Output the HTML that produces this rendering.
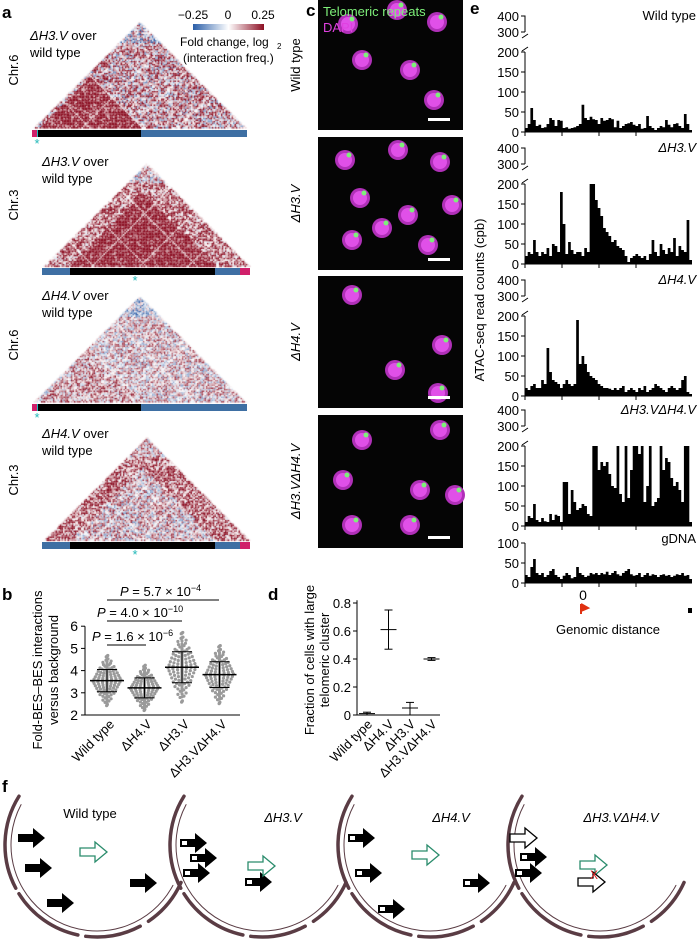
<!DOCTYPE html>
<html><head><meta charset="utf-8"><style>
body{margin:0;background:#fff;font-family:"Liberation Sans",sans-serif}
#root{position:relative;width:700px;height:942px;overflow:hidden}
svg{position:absolute;left:0;top:0}
canvas{position:absolute;left:0;top:0}
</style></head><body><div id="root">
<canvas id="hm" width="700" height="942"></canvas>
<svg id="sv" width="700" height="942" font-family="Liberation Sans, sans-serif"></svg>
</div>
<script>
// ===== data =====
const bGroups=["Wild type","ΔH4.V","ΔH3.V","ΔH3.VΔH4.V"];
const bMeans=[3.55,3.22,4.15,3.82];
const bSD=[0.5,0.45,0.7,0.58];
const dGroups=["Wild type","ΔH4.V","ΔH3.V","ΔH3.VΔH4.V"];
const dMeans=[0.01,0.61,0.05,0.40];
const dLow=[0.0,0.47,0.0,0.39];
const dHigh=[0.02,0.75,0.09,0.41];
const eTitles=["Wild type","ΔH3.V","ΔH4.V","ΔH3.VΔH4.V","gDNA"];
const eWT=[10,20,60,30,15,18,10,12,20,35,30,15,30,28,10,12,8,10,12,15,20,68,35,30,38,32,30,20,35,28,30,35,32,12,28,10,15,20,22,25,18,15,20,8,10,40,15,10,5,10,15,12,30,18,12,20,22,15,10,45,20,5];
const eH3=[20,30,25,60,30,20,30,25,40,20,50,45,30,180,100,25,55,35,25,30,30,20,40,30,200,200,160,140,120,90,80,70,55,60,45,40,35,20,5,15,20,25,20,15,20,10,25,60,30,20,50,35,25,40,30,65,20,45,35,30,110,10];
const eH4=[20,15,25,30,20,20,40,30,120,60,40,35,30,20,30,40,30,25,30,190,80,100,80,60,50,45,40,30,25,20,20,18,15,20,15,20,25,10,15,20,15,10,20,15,25,10,15,20,30,25,20,15,10,20,25,20,15,20,40,50,10,5];
const eDbl=[10,25,20,55,15,10,20,12,10,30,15,28,25,10,110,110,30,90,60,40,45,55,50,30,25,200,200,140,160,150,160,130,100,95,200,80,60,200,70,140,200,200,180,200,60,100,200,50,60,70,200,140,170,160,120,100,110,90,60,200,200,10];
const eG=[20,15,40,60,25,20,25,15,20,30,35,20,15,10,18,25,20,12,15,40,25,20,15,18,25,22,25,20,25,22,28,20,25,30,22,18,25,30,35,22,18,20,25,15,20,25,18,22,20,15,20,22,18,20,15,18,22,20,25,18,20,10];
const eTicks=[0,50,100,150,200];

const NS="http://www.w3.org/2000/svg";const sv=document.getElementById('sv');
function el(t,a,p){const e=document.createElementNS(NS,t);for(const k in a)e.setAttribute(k,a[k]);(p||sv).appendChild(e);return e;}
function tx(x,y,s,o){o=o||{};const e=el('text',Object.assign({x:x,y:y,'font-size':o.fs||13,fill:o.fill||'#000','text-anchor':o.a||'start'},o.tr?{transform:o.tr}:{} ,o.it?{'font-style':'italic'}:{} ,o.b?{'font-weight':'bold'}:{}));e.textContent=s;return e;}

// ===== panel a heatmaps (canvas) =====
const ctx=document.getElementById('hm').getContext('2d');
function hash(a,b){let h=(a*374761393+b*668265263)|0;h=(h^(h>>>13))*1274126177|0;return ((h^(h>>>16))>>>0)/4294967295;}
function col(v){v=Math.max(-0.25,Math.min(0.25,v))/0.25;
 if(v>=0){const r=255+(140-255)*v,g=255+(15-255)*v,b=255+(35-255)*v;return `rgb(${r|0},${g|0},${b|0})`;}
 v=-v;return `rgb(${(255-(255-40)*v)|0},${(255-(255-90)*v)|0},${(255-(255-165)*v)|0})`;}
const tris=[
 {x0:32,x1:247,yb:128,b0:38,b1:141,inM:0.3,outM:0.08,nz:0.25,seed:1},
 {x0:42,x1:250,yb:266,b0:70,b1:215,inM:0.28,outM:0.14,nz:0.2,seed:2},
 {x0:32,x1:247,yb:402,b0:38,b1:141,inM:0.08,outM:0.04,nz:0.18,seed:3},
 {x0:42,x1:250,yb:540,b0:70,b1:215,inM:0.04,outM:0.15,nz:0.2,seed:4}];
tris.forEach(t=>{const w=t.x1-t.x0,h=w/2;
 for(let y=t.yb-h;y<t.yb;y+=1.5)for(let x=t.x0;x<t.x1;x+=1.5){const d=t.yb-y;const u=x-d,v=x+d;
  if(u<t.x0||v>t.x1)continue;const inside=(u>=t.b0&&v<=t.b1);
  let m=inside?t.inM:t.outM; if(d>h*0.8)m-=0.1;
  let val=m+(hash(Math.round(x*2)*7+t.seed,Math.round(y*2)*13)-0.5)*2*t.nz;
  if(Math.abs((u-t.x0)%48)<1.5||Math.abs((t.x1-v)%52)<1.5)val*=0.2;
  ctx.fillStyle=col(val);ctx.fillRect(x,y,1.6,1.6);}
});
function abar(y,segs){segs.forEach(s=>{const r=el('rect',{x:s[0],y:y,width:s[1]-s[0],height:7,fill:s[2]});});}
abar(130,[[32,37,'#d0206a'],[37,38,'#20c0c0'],[38,141,'#000'],[141,247,'#3e6fa3']]);
abar(268,[[42,70,'#3e6fa3'],[70,215,'#000'],[215,240,'#3e6fa3'],[240,250,'#d0206a']]);
abar(404,[[32,37,'#d0206a'],[37,38,'#20c0c0'],[38,141,'#000'],[141,247,'#3e6fa3']]);
abar(542,[[42,70,'#3e6fa3'],[70,215,'#000'],[215,240,'#3e6fa3'],[240,250,'#d0206a']]);
[[37,148],[135,285],[37,422],[135,559]].forEach(p=>tx(p[0],p[1],'*',{fs:13,fill:'#20b8b8',a:'middle'}));
tx(2,18,'a',{fs:17,b:1});
const aLab=[['ΔH3.V',' over',30,40,'Chr.6',70],['ΔH3.V',' over',42,166,'Chr.3',205],['ΔH4.V',' over',42,300,'Chr.6',345],['ΔH4.V',' over',42,438,'Chr.3',480]];
aLab.forEach(l=>{const t=tx(l[2],l[3],'',{fs:13});const s1=el('tspan',{'font-style':'italic'},t);s1.textContent=l[0];const s2=el('tspan',{},t);s2.textContent=l[1];
 tx(l[2],l[3]+17,'wild type',{fs:13});tx(0,0,l[4],{fs:13,a:'middle',tr:`translate(18,${l[5]}) rotate(-90)`});});
const gd=el('linearGradient',{id:'cb'},el('defs',{}));
[['0','#2a5ea8'],['0.5','#fff'],['1','#8c0f23']].forEach(s=>el('stop',{offset:s[0],'stop-color':s[1]},gd));
el('rect',{x:193,y:24,width:71,height:6,fill:'url(#cb)',});
tx(193,19,'−0.25',{fs:12,a:'middle'});tx(228,19,'0',{fs:12,a:'middle'});tx(263,19,'0.25',{fs:12,a:'middle'});
tx(180,46,'Fold change, log',{fs:12});tx(277,49,'2',{fs:8});tx(183,62,'(interaction freq.)',{fs:12});

// ===== panel c microscopy =====
tx(306,16,'c',{fs:17,b:1});
const cBoxes=[[318,0,145,130],[318,137,145,133],[318,276,145,132],[318,415,145,133]];
const cLabels=['Wild type','ΔH3.V','ΔH4.V','ΔH3.VΔH4.V'];
const nuclei=[[[348,24],[397,10],[437,22],[362,60],[410,70],[434,100]],[[345,160],[398,150],[440,162],[360,198],[408,215],[452,205],[352,240],[428,245],[382,228]],[[352,295],[395,370],[442,345],[438,393]],[[362,440],[440,430],[343,480],[420,490],[455,495],[352,525],[410,525]]];
cBoxes.forEach((b,i)=>{const r=el('rect',{x:b[0],y:b[1],width:b[2],height:b[3],fill:'#050505'});
 nuclei[i].forEach((n,k)=>{el('circle',{cx:n[0],cy:n[1],r:10,fill:'#b030b8'});el('circle',{cx:n[0],cy:n[1],r:7,fill:'#e050e8'});el('circle',{cx:n[0]+4,cy:n[1]-5,r:2.5,fill:'#7ef07a'});});
 el('rect',{x:b[0]+b[2]-35,y:b[1]+b[3]-12,width:22,height:3,fill:'#fff'});
 tx(0,0,cLabels[i],{fs:13,it:i>0,a:'middle',tr:`translate(${b[0]-18},${b[1]+b[3]/2}) rotate(-90)`});});
tx(323,16,'Telomeric repeats',{fs:13,fill:'#7ef07a'});tx(323,32,'DAPI',{fs:13,fill:'#e040e0'});

// ===== panel b =====
tx(2,600,'b',{fs:17,b:1});
const bx0=85,bx1=240,by=v=>715-(v-2)*22.2,bxc=i=>107+i*37.5;
el('line',{x1:bx0,y1:by(6),x2:bx0,y2:by(2),stroke:'#000'});el('line',{x1:bx0,y1:by(2),x2:bx1,y2:by(2),stroke:'#000'});
[2,3,4,5,6].forEach(v=>{el('line',{x1:bx0-4,y1:by(v),x2:bx0,y2:by(v),stroke:'#000'});tx(bx0-7,by(v)+5,String(v),{fs:14,a:'end'});});
const qz=[-2.2,-1.9,-1.7,-1.5,-1.35,-1.2,-1.1,-1,-0.9,-0.8,-0.72,-0.64,-0.56,-0.48,-0.4,-0.33,-0.26,-0.19,-0.12,-0.06,0,0.06,0.12,0.19,0.26,0.33,0.4,0.48,0.56,0.64,0.72,0.8,0.9,1,1.1,1.2,1.35,1.5,1.7,1.9,2.2];
bGroups.forEach((g,i)=>{const cx=bxc(i);
 qz.forEach((z,k)=>{[-1,0,1].forEach(s=>{const spread=(1-Math.abs(z)/2.4)*14;el('circle',{cx:cx+s*spread*((k%3+1)/3),cy:by(bMeans[i]+z*bSD[i]+s*0.03),r:1.6,fill:'#9a9a9a'});});});
 el('line',{x1:cx-17,y1:by(bMeans[i]),x2:cx+17,y2:by(bMeans[i]),stroke:'#000','stroke-width':1.5});
 el('line',{x1:cx,y1:by(bMeans[i]-bSD[i]),x2:cx,y2:by(bMeans[i]+bSD[i]),stroke:'#000'});
 [-1,1].forEach(s=>el('line',{x1:cx-10,y1:by(bMeans[i]+s*bSD[i]),x2:cx+10,y2:by(bMeans[i]+s*bSD[i]),stroke:'#000'}));
 tx(0,0,g,{fs:13,a:'end',tr:`translate(${cx+8},${by(2)+10}) rotate(-45)`});});
[[107,146,645,'P = 1.6 × 10','−6',92],[107,182,621,'P = 4.0 × 10','−10',97],[107,219,600,'P = 5.7 × 10','−4',120]].forEach(p=>{
 el('line',{x1:p[0],y1:p[2],x2:p[1],y2:p[2],stroke:'#000'});const t=tx(p[5],p[2]-4,'',{fs:13});
 const a=el('tspan',{'font-style':'italic'},t);a.textContent='P';const b=el('tspan',{},t);b.textContent=p[3].slice(1);const c=el('tspan',{dy:-5,'font-size':9},t);c.textContent=p[4];});
tx(0,0,'Fold-BES–BES interactions',{fs:13,a:'middle',tr:'translate(42,670) rotate(-90)'});
tx(0,0,'versus background',{fs:13,a:'middle',tr:'translate(58,670) rotate(-90)'});

// ===== panel d =====
tx(268,600,'d',{fs:17,b:1});
const dx0=357,dy=v=>715-v*140,dxc=i=>367+i*21.5;
el('line',{x1:dx0,y1:dy(0.82),x2:dx0,y2:dy(0),stroke:'#000'});el('line',{x1:dx0,y1:dy(0),x2:440,y2:dy(0),stroke:'#000'});
[0,0.2,0.4,0.6,0.8].forEach(v=>{el('line',{x1:dx0-4,y1:dy(v),x2:dx0,y2:dy(v),stroke:'#000'});tx(dx0-6,dy(v)+5,v===0?'0':String(v),{fs:13,a:'end'});});
dGroups.forEach((g,i)=>{const cx=dxc(i);
 el('line',{x1:cx-8,y1:dy(dMeans[i]),x2:cx+8,y2:dy(dMeans[i]),stroke:'#000'});
 el('line',{x1:cx,y1:dy(dLow[i]),x2:cx,y2:dy(dHigh[i]),stroke:'#000'});
 [dLow[i],dHigh[i]].forEach(v=>el('line',{x1:cx-4,y1:dy(v),x2:cx+4,y2:dy(v),stroke:'#000'}));
 tx(0,0,g,{fs:13,a:'end',tr:`translate(${cx+6},${dy(0)+10}) rotate(-45)`});});
tx(0,0,'Fraction of cells with large',{fs:13,a:'middle',tr:'translate(314,660) rotate(-90)'});
tx(0,0,'telomeric cluster',{fs:13,a:'middle',tr:'translate(329,660) rotate(-90)'});

// ===== panel e =====
tx(470,14,'e',{fs:17,b:1});
const eSeries=[eWT,eH3,eH4,eDbl,eG];
const eZero=[132,264,396,526,583];
const ex0=525,ex1=692;
eSeries.forEach((s,p)=>{const z=eZero[p];const sy=v=>z-Math.min(v,200)*0.4;const bw=(ex1-ex0)/s.length;
 let d=`M${ex0},${z}`;s.forEach((v,i)=>{d+=`L${ex0+i*bw},${sy(v)}L${ex0+(i+1)*bw},${sy(v)}`;});d+=`L${ex1},${z}Z`;
 const pa=el('path',{d:d,fill:'#000'});
 const top=p<4?200:100;
 el('line',{x1:ex0,y1:z,x2:ex1,y2:z,stroke:'#000'});el('line',{x1:ex0,y1:z,x2:ex0,y2:sy(top),stroke:'#000'});
 eTicks.filter(v=>v<=top).forEach(v=>{el('line',{x1:ex0-4,y1:sy(v),x2:ex0,y2:sy(v),stroke:'#000'});tx(ex0-6,sy(v)+5,String(v),{fs:13,a:'end'});});
 [0,1,2,3].forEach(k=>el('line',{x1:ex0+k*37,y1:z,x2:ex0+k*37,y2:z+4,stroke:'#000'}));
 if(p<4){const y3=sy(200)-20,y4=sy(200)-36;el('path',{d:`M${ex0-4},${y4}L${ex0},${y4}L${ex0},${y3}M${ex0-4},${y3}L${ex0},${y3}`,stroke:'#000',fill:'none'});
  tx(ex0-6,y4+5,'400',{fs:13,a:'end'});tx(ex0-6,y3+5,'300',{fs:13,a:'end'});
  el('path',{d:`M${ex0-3},${y3+6}L${ex0+3},${y3+2}M${ex0-3},${sy(200)-1}L${ex0+3},${sy(200)-5}`,stroke:'#000',fill:'none'});}
 tx(696,z-(p<4?112:40),eTitles[p],{fs:13,a:'end',it:p>0&&p<4});});
tx(583,600,'0',{fs:14,a:'middle'});
el('path',{d:'M581,604L581,614M581,604L588,608L581,611',stroke:'#e03010','stroke-width':2,fill:'#e03010'});el('rect',{x:688,y:608,width:4,height:5,fill:'#000'});
tx(608,634,'Genomic distance',{fs:13,a:'middle'});
tx(0,0,'ATAC-seq read counts (cpb)',{fs:13,a:'middle',tr:'translate(484,300) rotate(-90)'});

// ===== panel f =====
tx(2,792,'f',{fs:17,b:1});
const fOff=[0,165,333,503];
const fTitle=['Wild type','ΔH3.V','ΔH4.V','ΔH3.VΔH4.V'];
const fArrows=[[[[18,838,0],[25,868,0],[47,903,0],[130,883,0]],[[80,852,'g']]],
 [[[180,843,1],[190,858,1],[183,873,1],[245,882,1]],[[248,866,'g']]],
 [[[348,838,1],[355,873,1],[378,909,1],[463,883,1]],[[412,855,'g']]],
 [[[510,838,'o'],[520,857,1],[515,873,1]],[[580,865,'g'],[578,882,'o']]]];
function arrow(x,y,kind){const g=el('g',{});
 const p=`M${x},${y-4}L${x+15},${y-4}L${x+15},${y-10}L${x+27},${y}L${x+15},${y+10}L${x+15},${y+4}L${x},${y+4}Z`;
 if(kind==='g')el('path',{d:p,fill:'#fff',stroke:'#2a8c6c','stroke-width':1.3},g);
 else if(kind==='o')el('path',{d:p,fill:'#fff',stroke:'#000','stroke-width':1.3},g);
 else{el('path',{d:p,fill:'#000'},g);if(kind===1)el('rect',{x:x+2,y:y-2,width:5,height:4,fill:'#fff'},g);}}
function arc(cx,cy,r,a1,a2,w){const P=a=>[cx+r*Math.cos(a*Math.PI/180),cy+r*Math.sin(a*Math.PI/180)];const p1=P(a1),p2=P(a2);
 const e=el('path',{d:`M${p1[0]},${p1[1]} A${r},${r} 0 ${(a2-a1)>180?1:0},1 ${p2[0]},${p2[1]}`,stroke:'#5a3c44','stroke-width':w,fill:'none','stroke-linecap':'round'});
 }
fOff.forEach((o,i)=>{const cx=o+97,cy=845;
 arc(cx,cy,86,28,208,1);
 [[152,212],[102,148],[62,97],[24,56]].forEach(s=>arc(cx,cy,92,s[0],s[1],3.5));
 tx(o+(i===0?90:118),i===0?818:822,fTitle[i],{fs:13,a:'middle',it:i>0});
 fArrows[i][0].forEach(a=>arrow(a[0],a[1],a[2]));fArrows[i][1].forEach(a=>arrow(a[0],a[1],a[2]));});
tx(594,879,'X',{fs:12,fill:'#e02020',a:'middle'});
</script></body></html>
